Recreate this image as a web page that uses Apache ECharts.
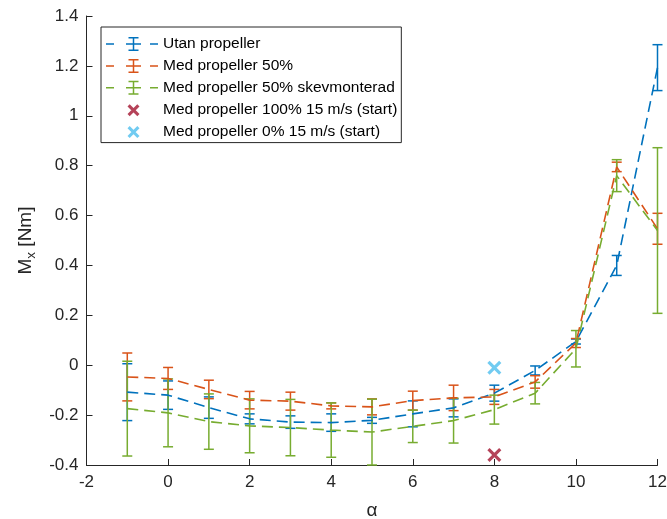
<!DOCTYPE html>
<html>
<head>
<meta charset="utf-8">
<script src="https://cdn.jsdelivr.net/npm/echarts@6/dist/echarts.min.js"></script>
<style>
html,body{margin:0;padding:0;background:#fff;}
#chart{width:667px;height:519px;}
</style>
</head>
<body>
<div id="chart"></div>
<script>
// ---- data ----
const alpha = [-1, 0, 1, 2, 3, 4, 5, 6, 7, 8, 9, 10, 11, 12];

const utanName = 'Utan propeller';
const utanMean = [-0.108, -0.120, -0.170, -0.215, -0.228, -0.230, -0.221, -0.195, -0.171, -0.112, -0.021, 0.095, 0.400, 1.193];
const utanErr  = [0.114, 0.057, 0.043, 0.020, 0.025, 0.035, 0.012, 0.052, 0.036, 0.032, 0.018, 0.010, 0.040, 0.092];

const med50Name = 'Med propeller 50%';
const med50Mean = [-0.047, -0.053, -0.097, -0.140, -0.144, -0.163, -0.167, -0.142, -0.131, -0.127, -0.067, 0.089, 0.795, 0.547];
const med50Err  = [0.096, 0.044, 0.037, 0.035, 0.036, 0.012, 0.032, 0.038, 0.051, 0.030, 0.025, 0.018, 0.019, 0.062];

const skevName = 'Med propeller 50% skevmonterad';
const skevMean = [-0.174, -0.191, -0.226, -0.243, -0.250, -0.260, -0.268, -0.245, -0.222, -0.178, -0.112, 0.066, 0.760, 0.540];
const skevErr  = [0.190, 0.136, 0.111, 0.108, 0.113, 0.109, 0.132, 0.065, 0.090, 0.058, 0.043, 0.073, 0.064, 0.332];

const start100Name = 'Med propeller 100% 15 m/s (start)';
const start100Pt = [8, -0.36];
const start0Name = 'Med propeller 0% 15 m/s (start)';
const start0Pt = [8, -0.01];

const xTicks = {min: -2, max: 12, interval: 2};
const yTicks = {min: -0.4, max: 1.4, interval: 0.2};

// ---- styling ----
const FONT = '"Liberation Sans", Arial, Helvetica, sans-serif';
const C_BLUE = '#0072BD', C_ORANGE = '#D95319', C_GREEN = '#77AC30', C_RED = '#A2142F', C_CYAN = '#4DBEEE';
const AXIS_C = '#262626';
const DASH = [11, 6];

const X_SYMBOL = 'path://M0,16 L16,0 L100,84 L84,100 Z M84,0 L100,16 L16,100 L0,84 Z';
const ICON_ERR = 'path://M0 6.25 H8 V7.75 H0 Z M44 6.25 H52 V7.75 H44 Z M26.75 0 H28.25 V14 H26.75 Z M22.5 0 H32.5 V1.5 H22.5 Z M22.5 12.5 H32.5 V14 H22.5 Z M20 6.25 H35 V7.75 H20 Z';
const ICON_X = 'path://M0 0 M52 14 M21.5 3.7 L23.7 1.5 L33.5 11.3 L31.3 13.5 Z M31.3 1.5 L33.5 3.7 L23.7 13.5 L21.5 11.3 Z';

function pairs(xs, ys) { return xs.map((x, i) => [x, ys[i]]); }
function errData(xs, m, e) { return xs.map((x, i) => [x, m[i] - e[i], m[i] + e[i]]); }

function errRender(color) {
  return function (params, api) {
    const x = api.value(0), lo = api.value(1), hi = api.value(2);
    const pLo = api.coord([x, lo]);
    const pHi = api.coord([x, hi]);
    const hw = 5;
    const style = {stroke: color, lineWidth: 1.5, fill: null};
    return {
      type: 'group',
      children: [
        {type: 'line', shape: {x1: pLo[0], y1: pLo[1], x2: pHi[0], y2: pHi[1]}, style: style},
        {type: 'line', shape: {x1: pLo[0] - hw, y1: pLo[1], x2: pLo[0] + hw, y2: pLo[1]}, style: style},
        {type: 'line', shape: {x1: pHi[0] - hw, y1: pHi[1], x2: pHi[0] + hw, y2: pHi[1]}, style: style}
      ]
    };
  };
}

function errSeries(id, color, m, e) {
  return {
    type: 'custom', id: id, name: id,
    renderItem: errRender(color),
    encode: {x: 0, y: [1, 2]},
    data: errData(alpha, m, e),
    silent: true
  };
}
function lineSeries(name, color, m) {
  return {
    type: 'line', name: name, color: color,
    itemStyle: {color: color},
    data: pairs(alpha, m),
    symbol: 'none', showSymbol: false,
    lineStyle: {color: color, width: 1.6, type: DASH},
    silent: true
  };
}

const chart = echarts.init(document.getElementById('chart'), null, {renderer: 'canvas'});
chart.setOption({
  animation: false,
  backgroundColor: '#fff',
  textStyle: {fontFamily: FONT},
  grid: {left: 86.5, right: 9.5, top: 16, bottom: 54, containLabel: false, outerBoundsMode: 'none'},
  xAxis: {
    type: 'value', min: xTicks.min, max: xTicks.max, interval: xTicks.interval,
    name: 'α', nameLocation: 'middle', nameGap: 36,
    nameTextStyle: {fontSize: 19, color: AXIS_C, fontFamily: FONT},
    axisLine: {show: true, onZero: false, lineStyle: {color: AXIS_C, width: 1}},
    axisTick: {show: true, inside: true, length: 6, lineStyle: {color: AXIS_C}},
    axisLabel: {fontSize: 17, color: AXIS_C, margin: 9, fontFamily: FONT},
    splitLine: {show: false}
  },
  yAxis: {
    type: 'value', min: yTicks.min, max: yTicks.max, interval: yTicks.interval,
    name: '{m|M}{s|x}{m| [Nm]}', nameLocation: 'middle', nameGap: 41,
    nameTextStyle: {
      color: AXIS_C, fontFamily: FONT,
      rich: {
        m: {fontSize: 19, color: AXIS_C, fontFamily: FONT, lineHeight: 26, verticalAlign: 'middle'},
        s: {fontSize: 13.5, color: AXIS_C, fontFamily: FONT, lineHeight: 13.5, verticalAlign: 'bottom'}
      }
    },
    axisLine: {show: true, onZero: false, lineStyle: {color: AXIS_C, width: 1}},
    axisTick: {show: true, inside: true, length: 6, lineStyle: {color: AXIS_C}},
    axisLabel: {fontSize: 17, color: AXIS_C, margin: 8, fontFamily: FONT},
    splitLine: {show: false}
  },
  legend: {
    left: 101, top: 27, orient: 'vertical',
    padding: [9, 4, 3, 5],
    itemWidth: 52, itemHeight: 14, itemGap: 5.9,
    backgroundColor: '#fff',
    borderColor: AXIS_C, borderWidth: 1,
    selectedMode: false,
    itemStyle: {borderWidth: 0},
    textStyle: {fontSize: 15.5, color: '#000', fontFamily: FONT, lineHeight: 14},
    data: [
      {name: utanName, icon: ICON_ERR, itemStyle: {color: C_BLUE, borderWidth: 0}},
      {name: med50Name, icon: ICON_ERR, itemStyle: {color: C_ORANGE, borderWidth: 0}},
      {name: skevName, icon: ICON_ERR, itemStyle: {color: C_GREEN, borderWidth: 0}},
      {name: start100Name, icon: ICON_X, itemStyle: {color: C_RED, borderWidth: 0}},
      {name: start0Name, icon: ICON_X, itemStyle: {color: C_CYAN, borderWidth: 0}}
    ]
  },
  series: [
    errSeries('err_utan', C_BLUE, utanMean, utanErr),
    lineSeries(utanName, C_BLUE, utanMean),
    errSeries('err_med50', C_ORANGE, med50Mean, med50Err),
    lineSeries(med50Name, C_ORANGE, med50Mean),
    errSeries('err_skev', C_GREEN, skevMean, skevErr),
    lineSeries(skevName, C_GREEN, skevMean),
    {
      type: 'scatter', name: start100Name, color: C_RED,
      symbol: X_SYMBOL, symbolSize: 14,
      itemStyle: {color: C_RED},
      data: [start100Pt], silent: true
    },
    {
      type: 'scatter', name: start0Name, color: C_CYAN,
      symbol: X_SYMBOL, symbolSize: 14,
      itemStyle: {color: C_CYAN},
      data: [start0Pt], silent: true
    }
  ]
});
</script>
</body>
</html>
